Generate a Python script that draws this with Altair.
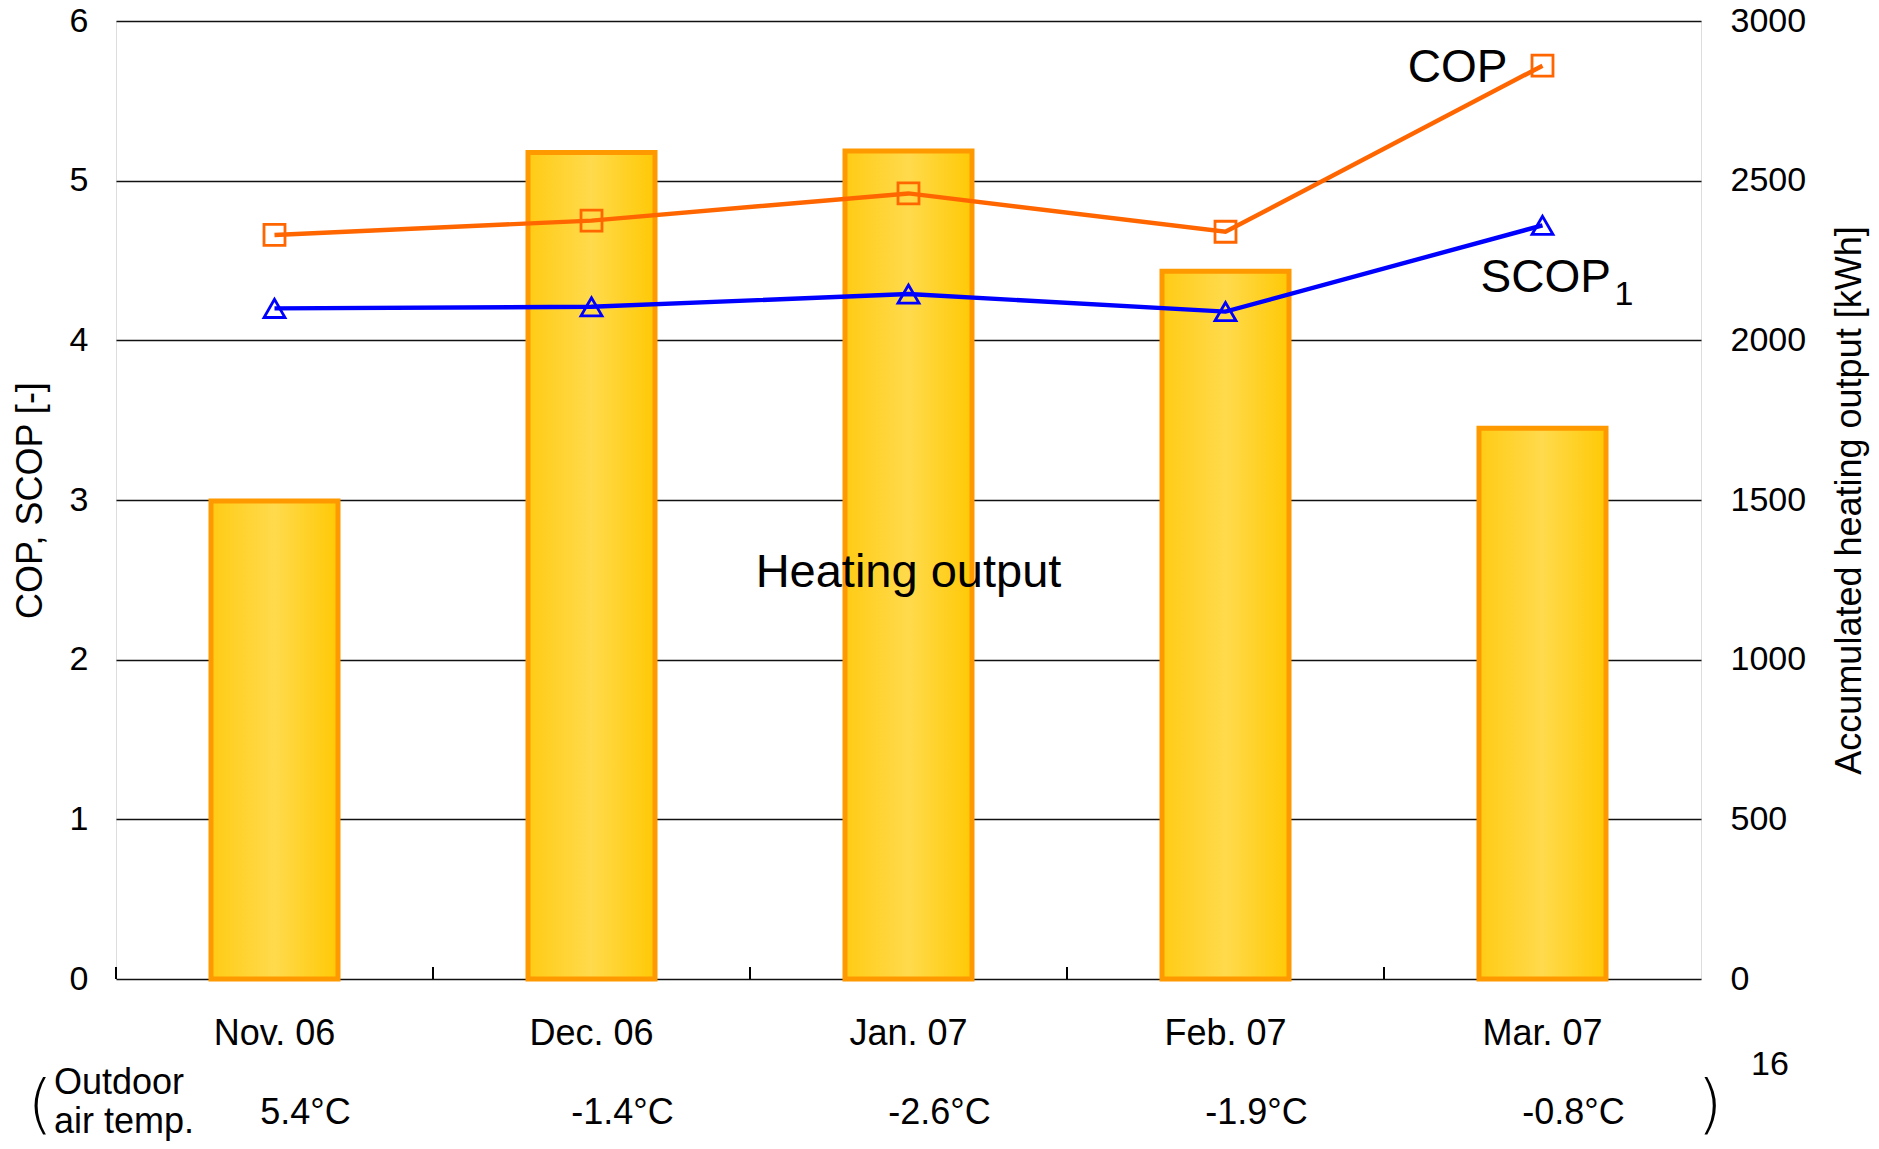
import altair as alt
import pandas as pd

months = ["Nov. 06", "Dec. 06", "Jan. 07", "Feb. 07", "Mar. 07"]
heat_kwh = [1497, 2588, 2593, 2216, 1725]
cop = [4.66, 4.75, 4.92, 4.68, 5.72]
scop1 = [4.20, 4.21, 4.29, 4.18, 4.72]
outdoor_temp = ["5.4°C", "-1.4°C", "-2.6°C", "-1.9°C", "-0.8°C"]
left_ticks = [0, 1, 2, 3, 4, 5, 6]
right_ticks = [0, 500, 1000, 1500, 2000, 2500, 3000]

df = pd.DataFrame({"month": months, "heat": heat_kwh, "cop": cop,
                   "scop": scop1, "temp": outdoor_temp})

FONT = "Liberation Sans"
W, H = 1585, 958
xsort = months
xscale = alt.Scale(paddingInner=0, paddingOuter=0)
left_dom = alt.Scale(domain=[0, 6], nice=False)

x_enc = alt.X("month:N", sort=xsort, scale=xscale,
              axis=alt.Axis(title=None, orient="bottom", ticks=False, domain=False,
                            labelFont=FONT, labelFontSize=36, labelColor="black",
                            labelAlign="center", labelBaseline="middle",
                            labelPadding=54, labelAngle=0))

grad = alt.Gradient(gradient="linear", x1=0, x2=1, y1=0, y2=0,
                    stops=[alt.GradientStop(color="#FFCB14", offset=0),
                           alt.GradientStop(color="#FFDA4C", offset=0.5),
                           alt.GradientStop(color="#FFC905", offset=1)])

bars = alt.Chart(df).mark_bar(size=127, stroke="#FF9900", strokeWidth=5, color=grad).encode(
    x=x_enc,
    y=alt.Y("heat:Q", scale=alt.Scale(domain=[0, 3000], nice=False),
            axis=alt.Axis(orient="right", values=right_ticks, format="d", grid=False,
                          ticks=False, domain=False, labelFont=FONT, labelFontSize=34,
                          labelColor="black", labelPadding=29, labelBaseline="middle",
                          title="Accumulated heating output [kWh]", titleFont=FONT,
                          titleFontSize=36, titleFontWeight="normal", titleColor="black",
                          titleAngle=-90, titleX=148, titleY=H / 2,
                          titleAlign="center", titleBaseline="middle")),
)

left_axis = alt.Axis(orient="left", values=left_ticks, grid=True, gridColor="#111111",
                     gridWidth=1.3, gridOpacity=1, ticks=False, domain=False,
                     labelFont=FONT, labelFontSize=34, labelColor="black",
                     labelPadding=28, labelBaseline="middle",
                     title="COP, SCOP [-]", titleFont=FONT, titleFontSize=36,
                     titleFontWeight="normal", titleColor="black", titleAngle=-90,
                     titleX=-86, titleY=H / 2, titleAlign="center", titleBaseline="middle")

grid_layer = alt.Chart(df).mark_point(opacity=0).encode(
    x=alt.X("month:N", sort=xsort, scale=xscale),
    y=alt.Y("cop:Q", scale=left_dom, axis=left_axis),
)

def series(col, color, shape):
    line = alt.Chart(df).mark_line(color=color, strokeWidth=4.4).encode(
        x=alt.X("month:N", sort=xsort, scale=xscale),
        y=alt.Y(f"{col}:Q", scale=left_dom, axis=None))
    pts = alt.Chart(df).mark_point(shape=shape, size=440, filled=False, color=color,
                                   strokeWidth=2.8, opacity=1).encode(
        x=alt.X("month:N", sort=xsort, scale=xscale),
        y=alt.Y(f"{col}:Q", scale=left_dom, axis=None))
    return line, pts

cop_line, cop_pts = series("cop", "#FF6600", "square")
scop_line, scop_pts = series("scop", "#0000FF", "triangle-up")

# inward x-axis ticks at category boundaries
xticks = alt.Chart(df).mark_rule(color="black", strokeWidth=2).encode(
    x=alt.X("month:N", sort=xsort, scale=xscale, bandPosition=0),
    y=alt.Y("zero:Q", scale=left_dom, axis=None),
    y2="tick:Q",
).transform_calculate(zero="0", tick="0.075")

last = df[df["month"] == "Mar. 07"]
cop_lbl = alt.Chart(last).mark_text(text="COP", font=FONT, fontSize=46, align="right",
                                    baseline="alphabetic", dx=-35, dy=16, color="black").encode(
    x=alt.X("month:N", sort=xsort, scale=xscale),
    y=alt.Y("cop:Q", scale=left_dom, axis=None))
scop_lbl = alt.Chart(last).mark_text(text="SCOP", font=FONT, fontSize=46, align="left",
                                     baseline="alphabetic", dx=-62, dy=67, color="black").encode(
    x=alt.X("month:N", sort=xsort, scale=xscale),
    y=alt.Y("scop:Q", scale=left_dom, axis=None))
scop_sub = alt.Chart(last).mark_text(text="1", font=FONT, fontSize=34, align="left",
                                     baseline="alphabetic", dx=72, dy=80, color="black").encode(
    x=alt.X("month:N", sort=xsort, scale=xscale),
    y=alt.Y("scop:Q", scale=left_dom, axis=None))

ann = pd.DataFrame({"month": ["Jan. 07"], "v": [2.54], "t": ["Heating output"]})
heat_lbl = alt.Chart(ann).mark_text(font=FONT, fontSize=47, align="center",
                                    baseline="middle", color="black").encode(
    x=alt.X("month:N", sort=xsort, scale=xscale),
    y=alt.Y("v:Q", scale=left_dom, axis=None), text="t:N")

temp_lbl = alt.Chart(df).mark_text(font=FONT, fontSize=36, align="center",
                                   baseline="middle", dx=31, color="black").encode(
    x=alt.X("month:N", sort=xsort, scale=xscale),
    y=alt.value(H + 134), text="temp:N")

one = pd.DataFrame({"a": [1]})
outdoor = alt.Chart(one).mark_text(text=["Outdoor", "air temp."], font=FONT, fontSize=36,
                                   align="left", baseline="middle", lineHeight=39,
                                   color="black").encode(x=alt.value(-62), y=alt.value(H + 104))
lbr = alt.Chart(one).mark_text(text="(", font="DejaVu Sans", fontWeight=200, fontSize=64,
                               align="center", baseline="middle", color="black").encode(
    x=alt.value(-76), y=alt.value(H + 128))
rbr = alt.Chart(one).mark_text(text=")", font="DejaVu Sans", fontWeight=200, fontSize=64,
                               align="center", baseline="middle", color="black").encode(
    x=alt.value(W + 9), y=alt.value(H + 128))
sixteen = alt.Chart(one).mark_text(text="16", font=FONT, fontSize=34, align="center",
                                   baseline="middle", color="black").encode(
    x=alt.value(W + 69), y=alt.value(H + 86))

chart = alt.layer(
    grid_layer, bars, xticks, cop_line, scop_line, cop_pts, scop_pts,
    cop_lbl, scop_lbl, scop_sub, heat_lbl, temp_lbl, outdoor, lbr, rbr, sixteen
).resolve_scale(y="independent").properties(
    width=W, height=H,
    autosize=alt.AutoSizeParams(type="none"),
    padding={"left": 108, "top": 13, "right": 170, "bottom": 162},
).configure_view(stroke="black", strokeWidth=1.6).configure(background="white")

chart.save("out.html", embed_options={"renderer": "svg", "actions": False})
